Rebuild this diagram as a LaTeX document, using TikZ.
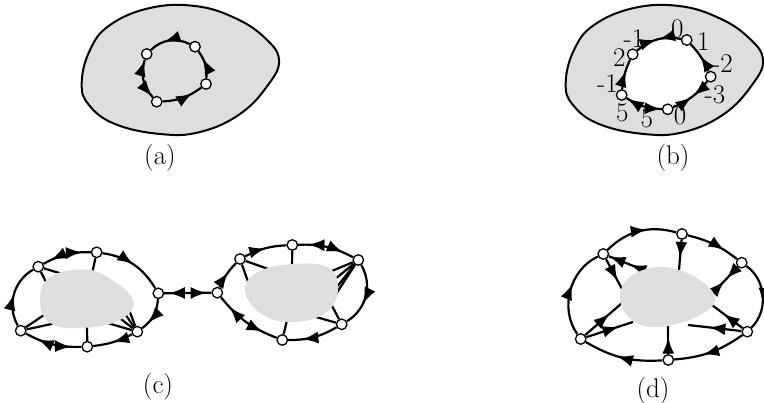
\documentclass[tikz,border=0pt]{standalone}
\usetikzlibrary{arrows.meta,decorations.markings}
\tikzset{
  vtx/.style={circle,draw,fill=white,line width=1.3pt,inner sep=0pt,minimum size=10.5pt},
  region/.style={draw,fill=black!13,line width=2pt},
  core/.style={fill=black!13},
  edge/.style={line width=2.2pt},
  fwd/.style={postaction={decorate,decoration={markings,mark=at position #1 with {\arrow{Latex[length=16pt,width=12pt]}}}}},
  bwd/.style={postaction={decorate,decoration={markings,mark=at position #1 with {\arrowreversed{Latex[length=16pt,width=12pt]}}}}},
  lbl/.style={font=\fontsize{27}{31}\selectfont,inner sep=0pt},
}
\newcommand{\outerblob}{plot[smooth cycle,tension=0.7] coordinates {(81.7,83) (90,50) (110,25) (150,8) (195,6) (235,18) (265,38) (279,60) (268,85) (240,114) (200,132) (160,134) (115,124) (89,105)}}
\begin{document}
\begin{tikzpicture}[x=1pt,y=-1pt]
\useasboundingbox (0,0) rectangle (764,403);

\draw[region] \outerblob;
\node[vtx] (a1) at (146.7,54) {};
\node[vtx] (a2) at (195,46.7) {};
\node[vtx] (a3) at (206,84) {};
\node[vtx] (a4) at (156.7,101.7) {};
\draw[edge,bwd=0.38] (a1) to[bend left=35] (a2);
\draw[edge,bwd=0.3] (a2) to[bend left=20] (a3);
\draw[edge,bwd=0.26] (a3) to[bend left=17] (a4);
\draw[edge,bwd=0.03,fwd=0.98] (a4) to[bend left=30] (a1);
\node[lbl] (capa) at (160,157.5) {(a)};

\begin{scope}[xshift=484]
\draw[region] \outerblob;
\end{scope}
\fill[white] (632.7,54.3) to[bend left=25] (686.7,40) to[bend left=10] (710.7,76.7) to[bend left=15] (667.7,109.3) to[bend left=15] (621.7,95) to[bend left=10] (632.7,54.3) -- cycle;
\node[vtx] (b1) at (632.7,54.3) {};
\node[vtx] (b2) at (686.7,40) {};
\node[vtx] (b3) at (710.7,76.7) {};
\node[vtx] (b4) at (667.7,109.3) {};
\node[vtx] (b5) at (621.7,95) {};
\draw[edge,fwd=0.46,bwd=0.53] (b1) to[bend left=25] (b2);
\draw[edge,bwd=0.47] (b2) to[bend left=10] (b3);
\draw[edge,fwd=0.45,bwd=0.52] (b3) to[bend left=15] (b4);
\draw[edge,bwd=0.03,fwd=0.97] (b4) to[bend left=15] (b5);
\draw[edge,fwd=0.6] (b5) to[bend left=10] (b1);
\node[lbl] (v1) at (634,39) {-1};
\node[lbl] (v2) at (677.3,28.3) {0};
\node[lbl] (v3) at (703.3,41.7) {1};
\node[lbl] (v4) at (722.5,63.3) {-2};
\node[lbl] (v5) at (715,95) {-3};
\node[lbl] (v6) at (680,116) {0};
\node[lbl] (v7) at (646.7,119) {5};
\node[lbl] (v8) at (622.3,113) {5};
\node[lbl] (v9) at (607.5,83.3) {-1};
\node[lbl] (v10) at (619.3,57.7) {2};
\node[lbl] (capb) at (673,157.5) {(b)};

\node[vtx] (c1) at (38.3,266.7) {};
\node[vtx] (c2) at (96.7,252.3) {};
\node[vtx] (c3) at (158.3,293.3) {};
\node[vtx] (c4) at (137.3,331.7) {};
\node[vtx] (c5) at (87.3,346.7) {};
\node[vtx] (c6) at (20.7,330.7) {};
\node[vtx] (c7) at (217.3,292.7) {};
\node[vtx] (c8) at (240,259) {};
\node[vtx] (c9) at (292.3,245) {};
\node[vtx] (c10) at (358.3,260) {};
\node[vtx] (c11) at (341.7,324.3) {};
\node[vtx] (c12) at (282.3,340) {};
\coordinate (s1) at (66,275);
\coordinate (s2) at (50,290);
\coordinate (s3) at (91.5,276);
\coordinate (s4) at (50,311);
\coordinate (s5) at (56,323);
\coordinate (s6) at (87,325);
\coordinate (s7) at (128,307);
\coordinate (s8) at (123,311);
\coordinate (s9) at (117,316);
\coordinate (s10) at (104,322);
\coordinate (s11) at (274,271);
\coordinate (s12) at (251,290);
\coordinate (s13) at (292,270);
\coordinate (s14) at (327,273);
\coordinate (s15) at (334,280);
\coordinate (s16) at (336,288);
\coordinate (s17) at (334,297);
\coordinate (s18) at (316,317);
\coordinate (s19) at (331,304);
\coordinate (s20) at (288,316);
\draw[edge] (c1) -- (s1);
\draw[edge] (c1) -- (s2);
\draw[edge] (c2) -- (s3);
\draw[edge] (c6) -- (s4);
\draw[edge] (c6) -- (s5);
\draw[edge] (c5) -- (s6);
\draw[edge] (c4) -- (s7);
\draw[edge] (c4) -- (s8);
\draw[edge] (c4) -- (s9);
\draw[edge] (c4) -- (s10);
\draw[edge] (c8) -- (s11);
\draw[edge] (c8) -- (s12);
\draw[edge] (c9) -- (s13);
\draw[edge] (c10) -- (s14);
\draw[edge] (c10) -- (s15);
\draw[edge] (c10) -- (s16);
\draw[edge] (c10) -- (s17);
\draw[edge] (c11) -- (s18);
\draw[edge] (c11) -- (s19);
\draw[edge] (c12) -- (s20);
\fill[core] plot[smooth cycle,tension=0.7] coordinates {(40,300) (50,277) (83,269.5) (107,277) (133,300) (120,320) (82,328) (50,323)};
\fill[core] plot[smooth cycle,tension=0.7] coordinates {(245,291) (258,272) (293,264) (327,267) (338,285) (329,310) (297,322) (263,315)};
\draw[edge,bwd=0.17,fwd=0.82] (c1) to[bend left=15] (c2);
\draw[edge,fwd=0.5] (c2) to[bend left=25] (c3);
\draw[edge,fwd=0.76] (c3) to[bend left=25] (c4);
\draw[edge,fwd=0.5] (c4) to[bend left=10] (c5);
\draw[edge,bwd=0.18,fwd=0.77] (c5) to[bend left=15] (c6);
\draw[edge,fwd=0.5] (c6) to[bend left=45] (c1);
\draw[edge,bwd=0.1,fwd=0.9] (c3) -- (c7);
\draw[edge,fwd=0.58] (c7) to[bend left=10] (c8);
\draw[edge,fwd=0.5] (c8) to[bend left=12] (c9);
\draw[edge,bwd=0.18,fwd=0.8] (c9) to[bend left=15] (c10);
\draw[edge,fwd=0.62] (c10) to[bend left=45] (c11);
\draw[edge,fwd=0.72] (c11) to[bend left=15] (c12);
\draw[edge,bwd=0.22,fwd=0.81] (c12) to[bend left=15] (c7);
\node[lbl] (capc) at (158,387) {(c)};

\node[vtx] (d1) at (603.3,254) {};
\node[vtx] (d2) at (682,234) {};
\node[vtx] (d3) at (741.7,262.7) {};
\node[vtx] (d4) at (747.3,331.7) {};
\node[vtx] (d5) at (668.3,360) {};
\node[vtx] (d6) at (580.7,339) {};
\coordinate (t1) at (622,289);
\coordinate (t2) at (646,271);
\coordinate (t3) at (679,270);
\coordinate (t4) at (713,293);
\coordinate (t5) at (712,305);
\coordinate (t6) at (688,325);
\coordinate (t7) at (668,324);
\coordinate (t8) at (622,303);
\coordinate (t9) at (633,322);
\draw[edge,fwd=0.72] (d1) -- (t1);
\draw[edge,bwd=0.02,bwd=0.58] (d1) -- (t2);
\draw[edge,fwd=0.6] (d2) -- (t3);
\draw[edge,fwd=0.45,bwd=0.55] (d3) -- (t4);
\draw[edge,fwd=0.62] (d4) -- (t5);
\draw[edge,fwd=0.6] (d4) -- (t6);
\draw[edge,fwd=0.55] (d5) -- (t7);
\draw[edge,fwd=0.66] (d6) -- (t8);
\draw[edge,fwd=0.69] (d6) -- (t9);
\fill[core] plot[smooth cycle,tension=0.7] coordinates {(620,298) (630,277) (660,267) (693,276) (715,297) (700,315) (660,327) (632,320)};
\draw[edge,fwd=0.6] (d1) to[bend left=30] (d2);
\draw[edge,fwd=0.72] (d2) to[bend left=12] (d3);
\draw[edge,fwd=0.62] (d3) to[bend left=50] (d4);
\draw[edge,fwd=0.6] (d4) to[bend left=15] (d5);
\draw[edge,fwd=0.57] (d5) to[bend left=17] (d6);
\draw[edge,fwd=0.58] (d6) to[bend left=50] (d1);
\node[lbl] (capd) at (653,391) {(d)};
\end{tikzpicture}
\end{document}
